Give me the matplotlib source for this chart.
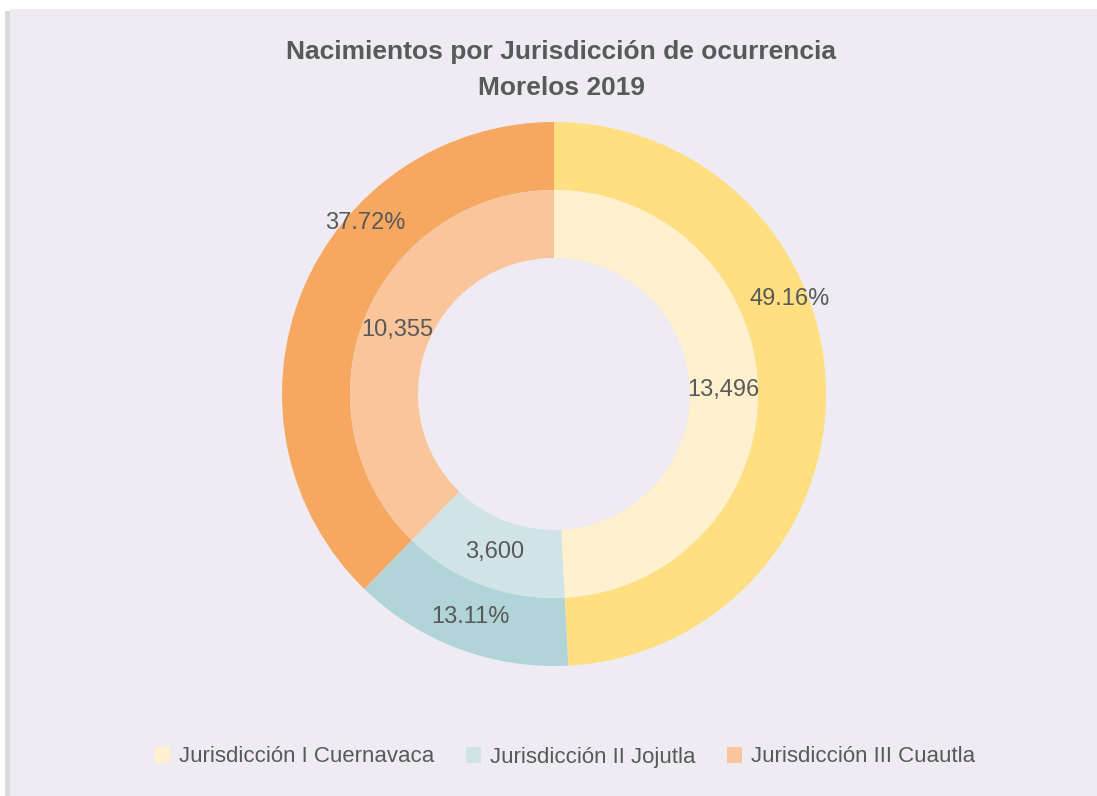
import numpy as np
import matplotlib.pyplot as plt
from matplotlib.patches import Rectangle, Patch
from matplotlib import font_manager

# data
categorias = ['Jurisdicción I Cuernavaca', 'Jurisdicción II Jojutla', 'Jurisdicción III Cuautla']
nacimientos = [13496, 3600, 10355]
total = sum(nacimientos)

col_ext = ['#FFDF80', '#B0D4D8', '#F7A860']
col_int = ['#FFF0CE', '#D0E4E7', '#FAC59A']
txt = '#595959'
fondo = '#EEEBF3'

nombres = [f.name for f in font_manager.fontManager.ttflist]
fam = 'Liberation Sans Narrow' if 'Liberation Sans Narrow' in nombres else 'Liberation Sans'
plt.rcParams['font.family'] = [fam, 'DejaVu Sans']

fig = plt.figure(figsize=(10.97, 7.96), dpi=100)
fig.patch.set_facecolor('white')

# fondo del grafico con sombra a la izquierda
fig.patches.append(Rectangle((5 / 1097, 0), 7 / 1097, 1 - 11 / 796, transform=fig.transFigure,
                             facecolor='#DADADA', edgecolor='none', zorder=-2))
fig.patches.append(Rectangle((10 / 1097, 0), 1, 1 - 9 / 796, transform=fig.transFigure,
                             facecolor=fondo, edgecolor='none', zorder=-1))

cx, cy, R = 554, 394, 272
ax = fig.add_axes([(cx - R) / 1097, (796 - cy - R) / 796, 2 * R / 1097, 2 * R / 796])
ax.set_facecolor('none')

w_ext, t_ext, a_ext = ax.pie(nacimientos, radius=1.0, colors=col_ext, startangle=90,
                             counterclock=False, autopct='%.2f%%', pctdistance=0.875,
                             wedgeprops=dict(width=0.25, edgecolor='none'),
                             textprops=dict(color=txt, fontsize=17))
w_int, t_int, a_int = ax.pie(nacimientos, radius=0.75, colors=col_int, startangle=90,
                             counterclock=False,
                             autopct=lambda p: f'{p * total / 100:,.0f}', pctdistance=0.83,
                             wedgeprops=dict(width=0.25, edgecolor='none'),
                             textprops=dict(color=txt, fontsize=17))

# Excel mueve algunas etiquetas exteriores
desplaza = [20.5, 0, -20]
for t, w, d in zip(a_ext, w_ext, desplaza):
    ang = np.deg2rad((w.theta1 + w.theta2) / 2 + d)
    r = 0.935 if d else 0.875
    t.set_position((r * np.cos(ang), r * np.sin(ang)))

ax.set_xlim(-1, 1)
ax.set_ylim(-1, 1)
ax.set_aspect('equal')

fig.text(561 / 1097, 1 - 70 / 796, 'Nacimientos por Jurisdicción de ocurrencia\nMorelos 2019',
         ha='center', va='center', fontsize=19, fontweight='bold', color=txt, linespacing=1.6)

handles = [Patch(facecolor=c, edgecolor='none') for c in col_int]
fig.legend(handles, categorias, loc='center', bbox_to_anchor=(565 / 1097, 1 - 757 / 796),
           ncol=3, frameon=False, fontsize=16, labelcolor=txt, handlelength=0.7,
           handleheight=0.7, handletextpad=0.4, columnspacing=1.4)

fig.savefig('out.png', dpi=100, facecolor=fig.get_facecolor())
